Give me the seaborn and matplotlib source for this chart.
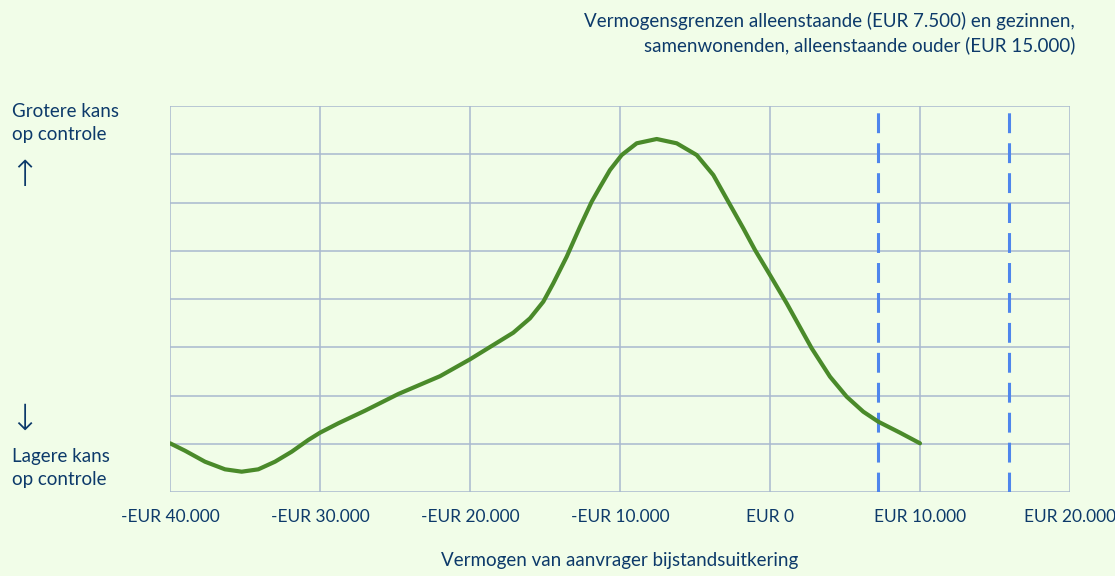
import matplotlib
matplotlib.use("Agg")
import matplotlib.pyplot as plt
import seaborn as sns
import pandas as pd

# === Data ===
vermogen = [-40000, -39000, -37667, -36333, -35220, -34113, -33000, -31887,
            -30780, -30000, -28780, -27000, -24780, -22000, -20000,
            -18447, -17113, -16000, -15113, -14447, -13553, -12667, -11887,
            -11333, -10667, -9887, -8887, -7553, -6220, -4887, -3780,
            -2780, -1780, -1000, 0, 1113, 2780, 4000, 5113,
            6220, 7220, 8667, 10000]
kans = [1.01, 0.856, 0.628, 0.470, 0.421, 0.470, 0.628, 0.835,
        1.078, 1.229, 1.424, 1.685, 2.031, 2.400, 2.750,
        3.047, 3.302, 3.600, 3.944, 4.325, 4.877, 5.498, 6.017,
        6.320, 6.674, 6.984, 7.227, 7.316, 7.227, 6.984, 6.570,
        6.017, 5.465, 5.016, 4.497, 3.911, 2.978, 2.390, 1.975,
        1.664, 1.457, 1.229, 1.009]
grenzen = [7200, 15900]
x_ticks = [-40000, -30000, -20000, -10000, 0, 10000, 20000]
x_labels = ["-EUR 40.000", "-EUR 30.000", "-EUR 20.000", "-EUR 10.000",
            "EUR 0", "EUR 10.000", "EUR 20.000"]

df = pd.DataFrame({"vermogen": vermogen, "kans": kans})

bg = "#f1fde8"
navy = "#0d3a6a"
grid_c = "#a9b9cf"

sns.set_theme(style="white")
plt.rcParams["font.family"] = ["Lato", "DejaVu Sans"]

fig = plt.figure(figsize=(11.15, 5.76), dpi=100, facecolor=bg)
ax = fig.add_axes([170 / 1115, 1 - 492 / 576, 900 / 1115, 386 / 576])
ax.set_facecolor(bg)

# grid
for y in range(0, 9):
    ax.axhline(y, color=grid_c, lw=1.1, zorder=1)
for x in x_ticks:
    ax.axvline(x, color=grid_c, lw=1.1, zorder=1)

for g in grenzen:
    ax.axvline(g, color="#4f86ec", lw=2.2, dashes=(6.5, 3.3), zorder=2)

sns.lineplot(data=df, x="vermogen", y="kans", color="#4a8a2a", lw=3.0,
             ax=ax, zorder=3, solid_joinstyle="round", solid_capstyle="round")

ax.set_xlim(-40000, 20000)
ax.set_ylim(0, 8)
ax.set_xticks(x_ticks)
ax.set_xticklabels(x_labels, fontsize=12.5, color=navy)
ax.set_yticks([])
ax.tick_params(axis="x", length=0, pad=12)
ax.set_xlabel("Vermogen van aanvrager bijstandsuitkering", fontsize=13.5,
              color=navy, labelpad=20)
ax.set_ylabel("")
for s in ax.spines.values():
    s.set_visible(False)

# teksten links
fig.text(12 / 1115, 1 - 123 / 576, "Grotere kans\nop controle", fontsize=13.5,
         color=navy, va="center", ha="left", linespacing=1.45)
fig.text(9 / 1115, 1 - 176 / 576, "↑", fontsize=26, color=navy,
         va="center", ha="left", family="DejaVu Sans", fontweight="light")
fig.text(9 / 1115, 1 - 420 / 576, "↓", fontsize=26, color=navy,
         va="center", ha="left", family="DejaVu Sans", fontweight="light")
fig.text(12 / 1115, 1 - 468 / 576, "Lagere kans\nop controle", fontsize=13.5,
         color=navy, va="center", ha="left", linespacing=1.45)

fig.text(1075 / 1115, 1 - 33 / 576,
         "Vermogensgrenzen alleenstaande (EUR 7.500) en gezinnen,\n"
         "samenwonenden, alleenstaande ouder (EUR 15.000)",
         fontsize=13.5, color=navy, va="center", ha="right", linespacing=1.45)

fig.savefig("out.png", dpi=100, facecolor=bg)
